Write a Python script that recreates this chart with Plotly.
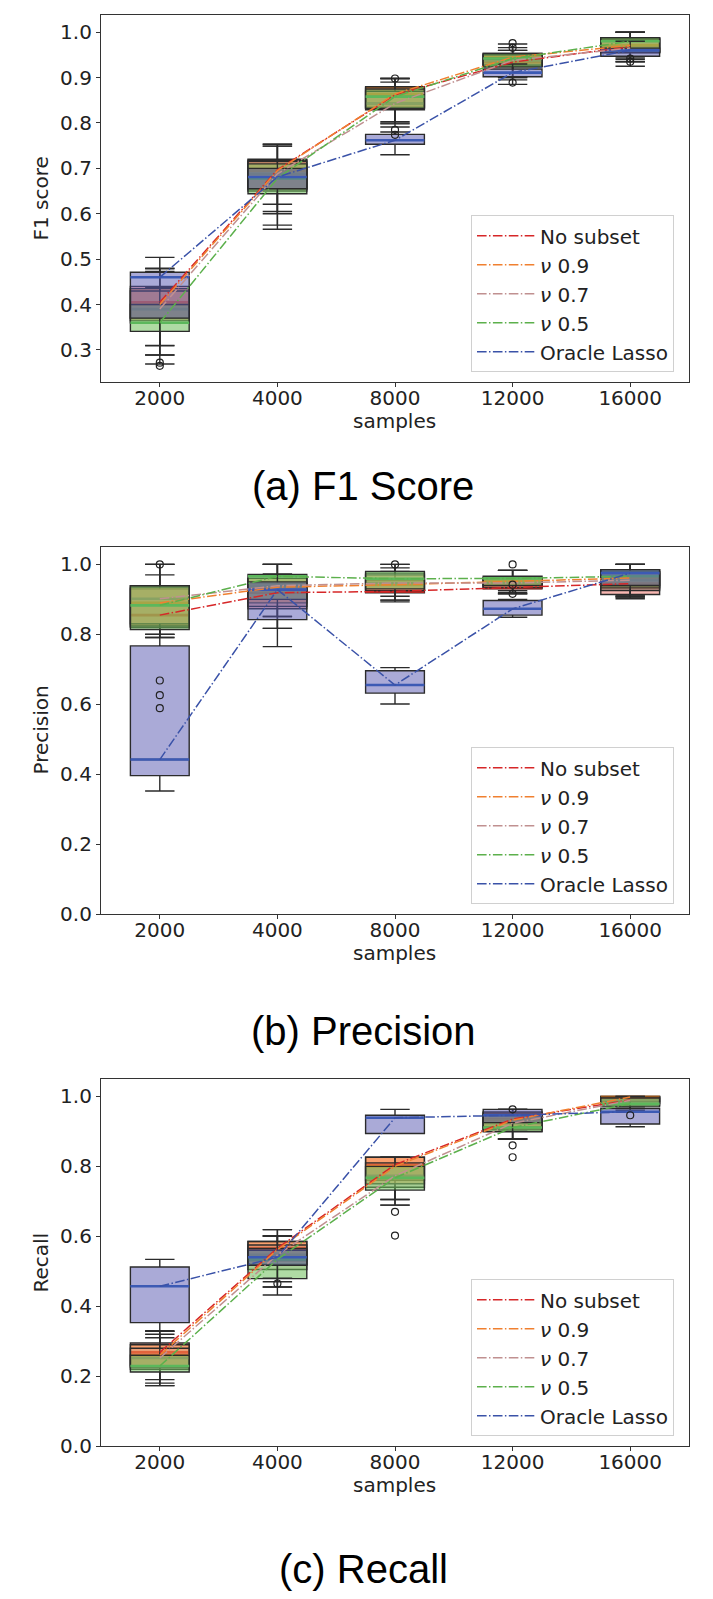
import plotly.graph_objects as go

# ---------------- data ----------------
SAMPLES = ["2000", "4000", "8000", "12000", "16000"]
POS = [1, 2, 3, 4, 5]
METHODS = ["No subset", "<i>ν</i> 0.9", "<i>ν</i> 0.7", "<i>ν</i> 0.5", "Oracle Lasso"]

LINE_COLORS = ["#d62728", "#f08030", "#c09090", "#5cb04c", "#3a52a8"]
MED_COLORS = ["#e0261f", "#ff7f0e", "#a88070", "#5cb85c", "#3c5ab4"]
FILL_COLORS = ["rgba(235,80,70,0.42)", "rgba(255,135,30,0.45)", "rgba(190,150,135,0.28)",
               "rgba(110,190,90,0.55)", "rgba(85,85,175,0.50)"]

# F1 score (rows: methods, cols: samples)
F1_Q1 = [[0.370, 0.655, 0.835, 0.925, 0.955],
         [0.365, 0.655, 0.833, 0.928, 0.958],
         [0.360, 0.650, 0.829, 0.925, 0.955],
         [0.341, 0.644, 0.832, 0.923, 0.955],
         [0.370, 0.655, 0.753, 0.902, 0.947]]
F1_MED = [[0.405, 0.697, 0.862, 0.934, 0.968],
          [0.400, 0.695, 0.864, 0.945, 0.971],
          [0.390, 0.688, 0.843, 0.938, 0.965],
          [0.360, 0.678, 0.858, 0.942, 0.980],
          [0.460, 0.681, 0.762, 0.911, 0.960]]
F1_Q3 = [[0.440, 0.720, 0.878, 0.950, 0.985],
         [0.435, 0.718, 0.880, 0.953, 0.988],
         [0.430, 0.715, 0.870, 0.950, 0.985],
         [0.400, 0.710, 0.875, 0.953, 0.988],
         [0.471, 0.700, 0.775, 0.919, 0.965]]
F1_LO = [[0.309, 0.600, 0.800, 0.900, 0.935],
         [0.289, 0.605, 0.803, 0.910, 0.940],
         [0.289, 0.575, 0.791, 0.895, 0.935],
         [0.269, 0.566, 0.798, 0.900, 0.943],
         [0.310, 0.621, 0.730, 0.885, 0.925]]
F1_HI = [[0.480, 0.753, 0.898, 0.966, 1.000],
         [0.479, 0.749, 0.898, 0.974, 1.000],
         [0.473, 0.749, 0.890, 0.960, 1.000],
         [0.438, 0.753, 0.898, 0.960, 1.000],
         [0.504, 0.718, 0.780, 0.930, 0.980]]
F1_OUT = [[[], [], [], [], [0.942]],
          [[], [], [], [], []],
          [[0.272], [], [0.898, 0.785, 0.774], [0.889], []],
          [[0.265], [], [], [0.966, 0.976], [0.935]],
          [[], [], [], [], []]]

# Precision
P_Q1 = [[0.820, 0.873, 0.919, 0.930, 0.914],
        [0.824, 0.890, 0.925, 0.935, 0.930],
        [0.830, 0.880, 0.925, 0.933, 0.925],
        [0.814, 0.900, 0.930, 0.940, 0.935],
        [0.396, 0.842, 0.632, 0.855, 0.940]]
P_MED = [[0.855, 0.919, 0.923, 0.933, 0.945],
         [0.890, 0.935, 0.942, 0.952, 0.961],
         [0.902, 0.939, 0.947, 0.947, 0.955],
         [0.883, 0.966, 0.959, 0.960, 0.966],
         [0.442, 0.928, 0.655, 0.873, 0.975]]
P_Q3 = [[0.930, 0.945, 0.955, 0.955, 0.975],
        [0.939, 0.960, 0.970, 0.963, 0.980],
        [0.935, 0.960, 0.975, 0.960, 0.980],
        [0.939, 0.971, 0.980, 0.966, 0.985],
        [0.767, 0.950, 0.696, 0.897, 0.985]]
P_LO = [[0.791, 0.817, 0.893, 0.925, 0.902],
        [0.800, 0.851, 0.898, 0.916, 0.907],
        [0.800, 0.817, 0.898, 0.916, 0.907],
        [0.791, 0.851, 0.909, 0.920, 0.910],
        [0.352, 0.765, 0.601, 0.849, 0.910]]
P_HI = [[0.970, 1.000, 0.980, 0.983, 1.000],
        [1.000, 1.000, 1.000, 0.983, 1.000],
        [1.000, 1.000, 1.000, 0.983, 1.000],
        [1.000, 1.000, 0.990, 0.983, 1.000],
        [0.800, 0.973, 0.705, 0.900, 1.000]]
P_OUT = [[[1.0, 0.668, 0.626, 0.589], [], [1.0], [0.916], []],
         [[], [], [], [], []],
         [[], [], [], [0.942], []],
         [[], [], [], [1.0], []],
         [[], [], [], [], []]]

# Recall
R_Q1 = [[0.230, 0.530, 0.760, 0.910, 0.980],
        [0.225, 0.520, 0.750, 0.905, 0.985],
        [0.220, 0.505, 0.740, 0.900, 0.975],
        [0.212, 0.479, 0.732, 0.899, 0.970],
        [0.353, 0.517, 0.894, 0.925, 0.921]]
R_MED = [[0.268, 0.566, 0.805, 0.935, 0.990],
         [0.260, 0.562, 0.800, 0.932, 0.998],
         [0.252, 0.547, 0.773, 0.923, 0.989],
         [0.229, 0.534, 0.767, 0.911, 0.979],
         [0.457, 0.540, 0.939, 0.946, 0.956]]
R_Q3 = [[0.295, 0.585, 0.826, 0.955, 1.000],
        [0.290, 0.585, 0.826, 0.955, 1.000],
        [0.280, 0.575, 0.810, 0.950, 0.998],
        [0.260, 0.560, 0.800, 0.945, 0.995],
        [0.512, 0.565, 0.946, 0.963, 0.965]]
R_LO = [[0.190, 0.470, 0.705, 0.878, 0.965],
        [0.180, 0.455, 0.705, 0.878, 0.970],
        [0.173, 0.455, 0.689, 0.878, 0.960],
        [0.173, 0.432, 0.689, 0.878, 0.955],
        [0.330, 0.480, 0.894, 0.900, 0.913]]
R_HI = [[0.328, 0.619, 0.826, 0.963, 1.000],
        [0.328, 0.619, 0.826, 0.955, 1.000],
        [0.320, 0.601, 0.826, 0.963, 1.000],
        [0.310, 0.601, 0.826, 0.963, 1.000],
        [0.534, 0.601, 0.963, 0.963, 0.965]]
R_OUT = [[[], [], [], [], []],
         [[], [], [], [0.963], []],
         [[], [], [], [], []],
         [[], [], [0.670, 0.602], [0.860, 0.826], [0.946]],
         [[], [0.465], [], [], []]]

Y_TITLES = ["F1 score", "Precision", "Recall"]
CAPTIONS = ["(a) F1 Score", "(b) Precision", "(c) Recall"]

# ---------------- layout geometry (pixels) ----------------
W, H = 713, 1599
PX_L, PX_R = 93, 681
PANELS_PX = [(7, 377), (543, 913), (1079, 1449)]
CAPTION_Y = [482, 1031, 1573]
Y_RANGES = [[0.229, 1.038], [0.0, 1.05], [0.0, 1.05]]
Y_TICKS = [[0.3, 0.4, 0.5, 0.6, 0.7, 0.8, 0.9, 1.0],
           [0.0, 0.2, 0.4, 0.6, 0.8, 1.0],
           [0.0, 0.2, 0.4, 0.6, 0.8, 1.0]]

TICK_FONT = dict(family="DejaVu Sans", size=20, color="#222222")
LABEL_FONT = dict(family="DejaVu Sans", size=20, color="#222222")
DASH = "9.6px,2.4px,1.5px,2.4px"

fig = go.Figure()

datasets = [(F1_Q1, F1_MED, F1_Q3, F1_LO, F1_HI, F1_OUT),
            (P_Q1, P_MED, P_Q3, P_LO, P_HI, P_OUT),
            (R_Q1, R_MED, R_Q3, R_LO, R_HI, R_OUT)]

annotations = []
for i, (q1, med, q3, lo, hi, outl) in enumerate(datasets):
    k = "" if i == 0 else str(i + 1)
    xa, ya = "x" + k, "y" + k
    leg = "legend" + k
    for m in range(len(METHODS)):
        fig.add_trace(go.Box(x=POS, q1=q1[m], median=med[m], q3=q3[m],
                             lowerfence=lo[m], upperfence=hi[m],
                             width=0.5, whiskerwidth=0.5, fillcolor=FILL_COLORS[m],
                             line=dict(color="#2b2b2b", width=1.4), boxpoints=False,
                             showlegend=False, hoverinfo="skip", xaxis=xa, yaxis=ya))
        fig.add_trace(go.Box(x=POS, q1=med[m], median=med[m], q3=med[m],
                             lowerfence=med[m], upperfence=med[m],
                             width=0.5, whiskerwidth=0, fillcolor="rgba(0,0,0,0)",
                             line=dict(color=MED_COLORS[m], width=2.6), boxpoints=False,
                             showlegend=False, hoverinfo="skip", xaxis=xa, yaxis=ya))
    for m in range(len(METHODS)):
        fig.add_trace(go.Scatter(x=POS, y=med[m], mode="lines", name=METHODS[m],
                                 line=dict(color=LINE_COLORS[m], width=1.5, dash=DASH),
                                 legend=leg, xaxis=xa, yaxis=ya, hoverinfo="skip"))
    for m in range(len(METHODS)):
        xs, ys = [], []
        for j, vals in enumerate(outl[m]):
            for v in vals:
                xs.append(POS[j])
                ys.append(v)
        if xs:
            fig.add_trace(go.Scatter(x=xs, y=ys, mode="markers", showlegend=False,
                                     marker=dict(symbol="circle-open", size=7,
                                                 color="#222222", line=dict(width=1.2)),
                                     hoverinfo="skip", xaxis=xa, yaxis=ya))

    top, bot = PANELS_PX[i]
    dom_y = [1 - bot / H, 1 - top / H]
    axis_common = dict(showline=True, mirror=True, linecolor="#333333", linewidth=1.2,
                       ticks="outside", ticklen=4, tickwidth=1, tickcolor="#333333",
                       showgrid=False, zeroline=False, tickfont=TICK_FONT)
    fig.update_layout(**{
        "xaxis" + k: dict(domain=[PX_L / W, PX_R / W], anchor=ya, range=[0.5, 5.5],
                          tickmode="array", tickvals=POS, ticktext=SAMPLES,
                          ticklabelstandoff=-6, **axis_common),
        "yaxis" + k: dict(domain=dom_y, anchor=xa, range=Y_RANGES[i],
                          tickmode="array", tickvals=Y_TICKS[i], tickformat=".1f",
                          **axis_common),
        leg: dict(x=666 / W, y=1 - (bot - 10) / H, xanchor="right", yanchor="bottom",
                  bgcolor="rgba(255,255,255,0.8)", bordercolor="#d0d0d0", borderwidth=1,
                  font=LABEL_FONT, traceorder="normal", itemwidth=58),
    })
    annotations.append(dict(text=Y_TITLES[i], x=33 / W, y=1 - (top + bot) / 2 / H,
                            xref="paper", yref="paper", showarrow=False, textangle=-90,
                            font=LABEL_FONT, xanchor="center", yanchor="middle"))
    annotations.append(dict(text="samples", x=(PX_L + PX_R) / 2 / W, y=1 - (bot + 39) / H,
                            xref="paper", yref="paper", showarrow=False,
                            font=LABEL_FONT, xanchor="center", yanchor="middle"))
    annotations.append(dict(text=CAPTIONS[i], x=355 / W, y=1 - CAPTION_Y[i] / H,
                            xref="paper", yref="paper", showarrow=False,
                            font=dict(family="Liberation Sans", size=40, color="#000000"),
                            xanchor="center", yanchor="middle"))

fig.update_layout(width=W, height=H, autosize=False,
                  margin=dict(l=0, r=0, t=0, b=0),
                  paper_bgcolor="white", plot_bgcolor="white",
                  boxmode="overlay", annotations=annotations)

fig.write_html("out.html")
